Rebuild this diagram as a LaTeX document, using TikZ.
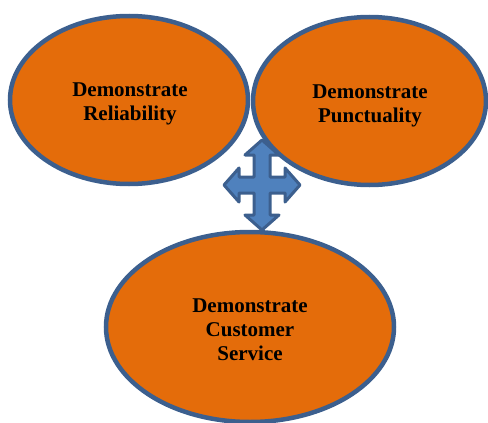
\documentclass[tikz,border=0pt]{standalone}
\usepackage{fontspec}
\setmainfont{Liberation Serif}
\usetikzlibrary{shapes.geometric}
\definecolor{orangefill}{HTML}{E46C0A}
\definecolor{blueline}{HTML}{3C5F8E}
\definecolor{bluefill}{HTML}{4F81BD}
\tikzset{
  oval/.style={ellipse, draw=blueline, fill=orangefill, line width=4.5pt, inner sep=0pt,
    align=center, font=\fontsize{21}{24}\selectfont\bfseries},
  crossarrow/.style={draw=blueline, fill=bluefill, line width=3pt, line join=round}
}
\begin{document}
\begin{tikzpicture}[x=1pt,y=-1pt]
\useasboundingbox (0,0) rectangle (488,423);
\coordinate (c) at (262,185);
\draw[crossarrow] (c) ++(0,-45) -- ++(17,15) -- ++(-9,0) -- ++(0,22) -- ++(15,0) -- ++(0,-9)
  -- ++(15,17) -- ++(-15,17) -- ++(0,-9) -- ++(-15,0) -- ++(0,22) -- ++(9,0) -- ++(-17,15)
  -- ++(-17,-15) -- ++(9,0) -- ++(0,-22) -- ++(-15,0) -- ++(0,9) -- ++(-15,-17) -- ++(15,-17)
  -- ++(0,9) -- ++(15,0) -- ++(0,-22) -- ++(-9,0) -- cycle;
\node[oval, minimum width=238pt, minimum height=168pt] (rel) at (129,100) {};
\node[oval, minimum width=233pt, minimum height=168pt] (pun) at (369.5,101) {};
\node[oval, minimum width=288pt, minimum height=190pt] (cus) at (250,327) {};
\node[align=center, font=\fontsize{21}{24}\selectfont\bfseries] (relt) at (130,104) {Demonstrate\\Reliability};
\node[align=center, font=\fontsize{21}{24}\selectfont\bfseries] (punt) at (370,106) {Demonstrate\\Punctuality};
\node[align=center, font=\fontsize{21}{24}\selectfont\bfseries] (cust) at (250,330) {Demonstrate\\Customer\\Service};
\end{tikzpicture}
\end{document}
